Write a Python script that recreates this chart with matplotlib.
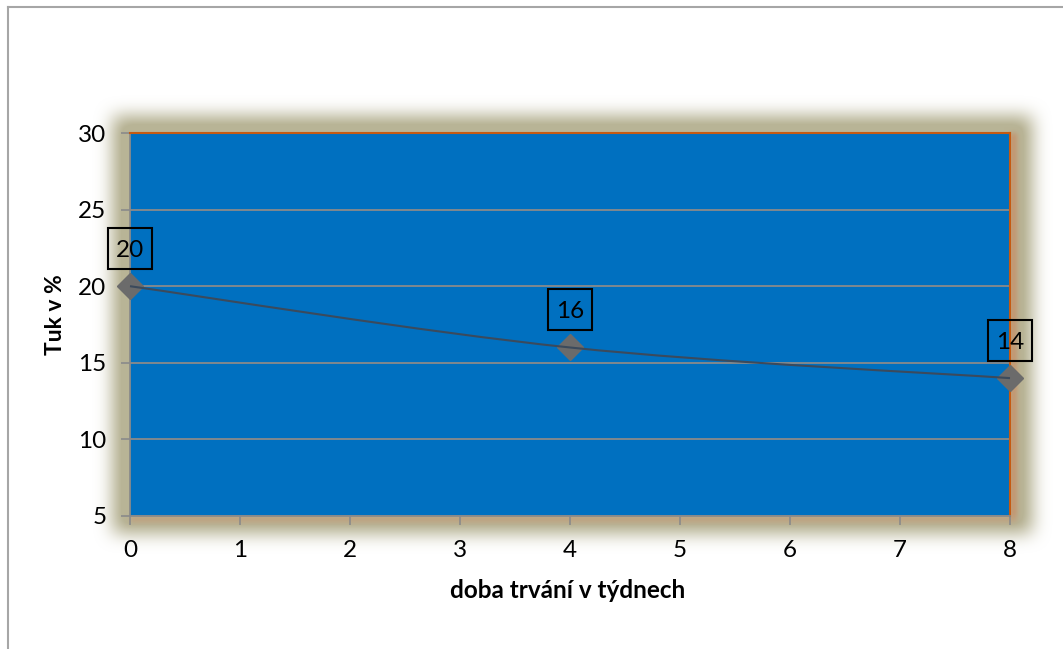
"""Body fat over a diet period, drawn in an office-chart style."""

import matplotlib.pyplot as plt
import matplotlib.transforms as mtransforms
import numpy as np
from matplotlib.lines import Line2D
from matplotlib.patches import PathPatch, Rectangle
from matplotlib.path import Path

weeks = [0, 4, 8]
fat_pct = [20, 16, 14]
x_ticks = list(range(0, 9))
y_ticks = [5, 10, 15, 20, 25, 30]

W, H = 1063, 649
PLOT_L, PLOT_R, PLOT_T, PLOT_B = 130, 1010, 133, 516
FS = 17.5

plt.rcParams["font.family"] = ["Lato", "DejaVu Sans"]


def _box_blur(img, radius, passes=3):
    """Approximate a gaussian blur with repeated box filters."""
    out = img.copy()
    k = 2 * radius + 1
    for _ in range(passes):
        for axis in (0, 1):
            pad = [(0, 0), (0, 0)]
            pad[axis] = (radius + 1, radius)
            p = np.pad(out, pad, mode="edge")
            c = np.cumsum(p, axis=axis)
            if axis == 0:
                out = (c[k:, :] - c[:-k, :]) / k
            else:
                out = (c[:, k:] - c[:, :-k]) / k
    return out


def _glow_image():
    rgba = np.ones((H, W, 4))
    rgba[..., 3] = 0.0

    # khaki halo around the plot area
    mask = np.zeros((H, W))
    e = 17
    mask[PLOT_T - e:PLOT_B + e, PLOT_L - e:PLOT_R + e + 5] = 1.0
    halo = np.clip(_box_blur(mask, 8) * 1.2, 0, 1)
    khaki = np.array([184, 180, 150]) / 255

    # warmer tint along the right and bottom edges
    tint = np.zeros((H, W))
    tint[PLOT_T:PLOT_B + 6, PLOT_R:PLOT_R + 7] = 1.0
    tint[PLOT_B:PLOT_B + 6, PLOT_L:PLOT_R + 7] = 0.6
    tint = _box_blur(tint, 2)
    orange = np.array([196, 148, 110]) / 255

    color = khaki[None, None, :] * (1 - tint[..., None]) + orange[None, None, :] * tint[..., None]
    rgba[..., :3] = color
    rgba[..., 3] = halo
    return rgba


fig = plt.figure(figsize=(W / 100, H / 100), dpi=100)

bg = fig.add_axes([0, 0, 1, 1], zorder=-5)
bg.imshow(_glow_image(), extent=(0, W, H, 0), interpolation="bilinear")
bg.set_xlim(0, W)
bg.set_ylim(H, 0)
bg.axis("off")

# chart frame
fig.add_artist(Line2D([8 / W, 1062 / W], [1 - 7 / H, 1 - 7 / H], color="#a6a6a6", lw=1.5))
fig.add_artist(Line2D([8 / W, 8 / W], [1 - 7 / H, 0], color="#a6a6a6", lw=1.5))

ax = fig.add_axes([PLOT_L / W, 1 - PLOT_B / H, (PLOT_R - PLOT_L) / W, (PLOT_B - PLOT_T) / H])
ax.set_facecolor("#0070c0")
ax.set_xlim(0, 8)
ax.set_ylim(5, 30)
ax.set_xticks(x_ticks)
ax.set_yticks(y_ticks)
ax.grid(axis="y", color="#8a8a8a", lw=1.3)
ax.set_axisbelow(True)

for side in ("top", "right"):
    ax.spines[side].set_color("#c55a11")
    ax.spines[side].set_linewidth(1.5)
for side in ("left", "bottom"):
    ax.spines[side].set_color("#8a8a8a")
    ax.spines[side].set_linewidth(1.3)

ax.tick_params(axis="both", direction="out", length=6.5, width=1.2, color="#8a8a8a",
               labelsize=FS)
ax.tick_params(axis="x", pad=11)
ax.tick_params(axis="y", pad=10.5)

# smoothed line through the points (cubic bezier segments)
pts = np.column_stack([weeks, fat_pct]).astype(float)
verts = [pts[0]]
codes = [Path.MOVETO]
for i in range(len(pts) - 1):
    prev_p = pts[max(i - 1, 0)]
    next_p = pts[min(i + 2, len(pts) - 1)]
    c1 = pts[i] + (pts[i + 1] - prev_p) / 6
    c2 = pts[i + 1] - (next_p - pts[i]) / 6
    verts += [c1, c2, pts[i + 1]]
    codes += [Path.CURVE4] * 3
ax.add_patch(PathPatch(Path(verts, codes), facecolor="none", edgecolor="#3b4a5c",
                       lw=1.5, zorder=4, clip_on=False))

ax.plot(weeks, fat_pct, linestyle="none", marker="D", markersize=13,
        color="#6b6b6b", zorder=3, clip_on=False)

# value labels in outlined boxes, sized in pixels above each point
for x, y in zip(weeks, fat_pct):
    anchor = mtransforms.ScaledTranslation(x, y, ax.transData)
    ax.add_patch(Rectangle((-22, 17.5), 44, 41, transform=mtransforms.Affine2D() + anchor,
                           facecolor="none", edgecolor="black", lw=1.5,
                           zorder=5, clip_on=False))
    ax.annotate(str(y), (x, y), xytext=(0, 29.5), textcoords="offset pixels",
                ha="center", va="baseline", fontsize=FS, zorder=5,
                annotation_clip=False)

fig.text(568 / W, 1 - 590 / H, "doba trvání v týdnech", fontsize=FS,
         fontweight="bold", ha="center", va="center")
fig.text(56 / W, 1 - 315 / H, "Tuk v %", fontsize=16.5, fontweight="bold",
         rotation=90, ha="center", va="center")

fig.savefig("out.png", dpi=100)
plt.close(fig)
